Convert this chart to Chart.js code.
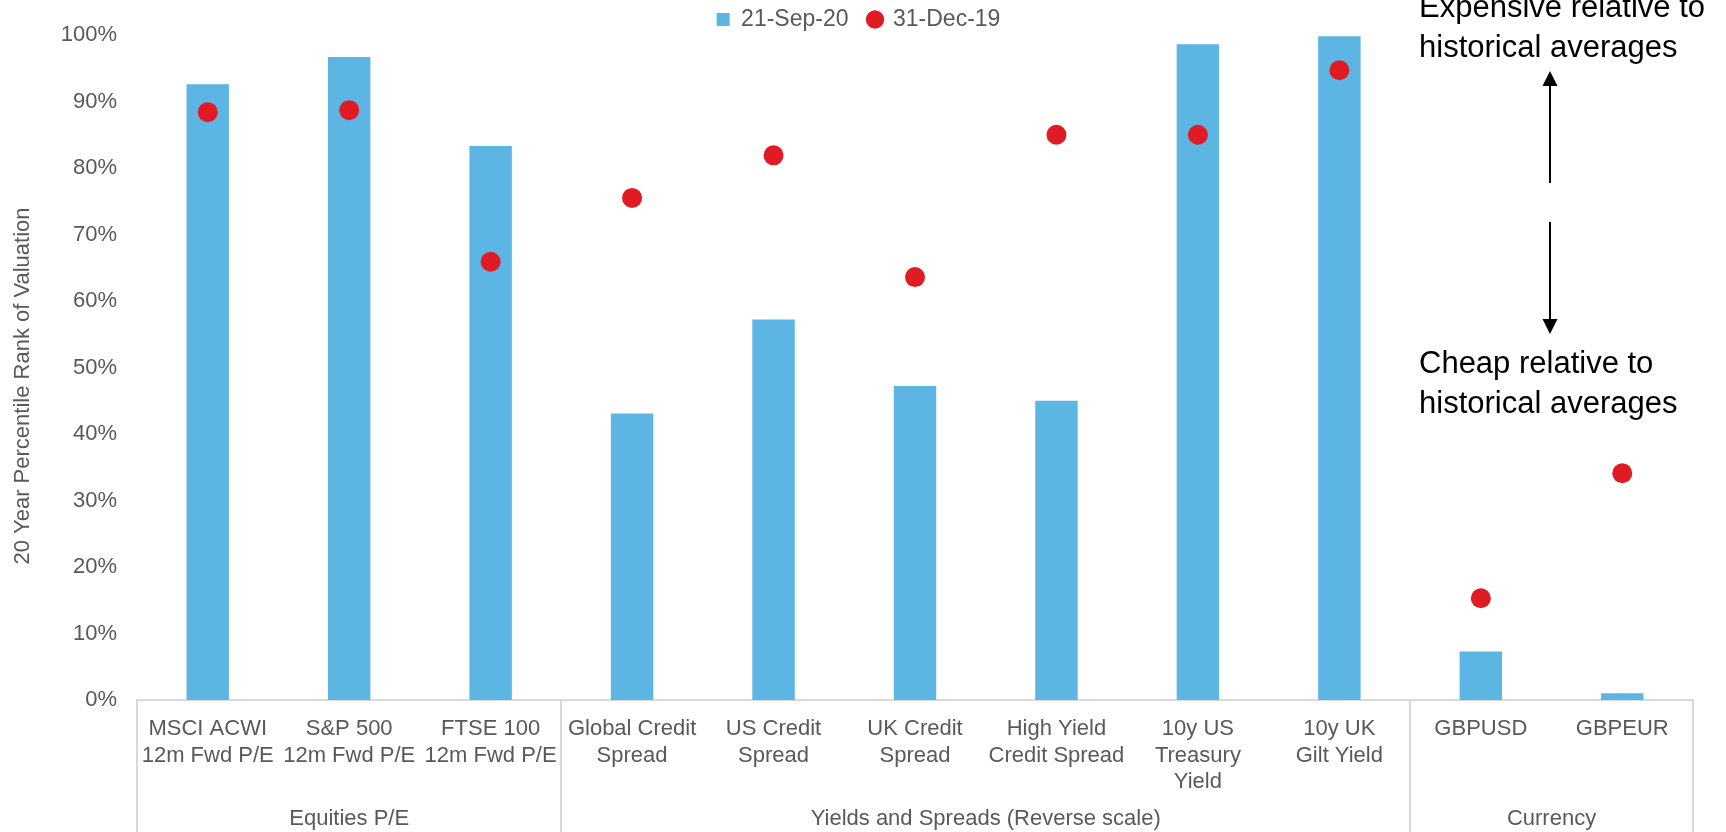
<!DOCTYPE html>
<html>
<head>
<meta charset="utf-8">
<script src="https://cdn.jsdelivr.net/npm/chart.js@4/dist/chart.umd.min.js"></script>
<style>
  html, body { margin: 0; padding: 0; background: #ffffff; }
  #wrap { width: 1726px; height: 832px; position: relative; }
</style>
</head>
<body>
<div id="wrap"><canvas id="chart" width="1726" height="832"></canvas></div>
<script>
// Asset categories (multi-line tick labels)
const categories = [
  ["MSCI ACWI", "12m Fwd P/E"],
  ["S&P 500", "12m Fwd P/E"],
  ["FTSE 100", "12m Fwd P/E"],
  ["Global Credit", "Spread"],
  ["US Credit", "Spread"],
  ["UK Credit", "Spread"],
  ["High Yield", "Credit Spread"],
  ["10y US", "Treasury", "Yield"],
  ["10y UK", "Gilt Yield"],
  ["GBPUSD"],
  ["GBPEUR"]
];

// Category groups shown on the second axis level
const groupNames = ["Equities P/E", "Yields and Spreads (Reverse scale)", "Currency"];
const groupSizes = [3, 6, 2];

// Series names
const seriesNames = ["21-Sep-20", "31-Dec-19"];

// 20-year percentile rank (%)
const rankSep20 = [92.6, 96.7, 83.3, 43.1, 57.2, 47.2, 45.0, 98.6, 99.8, 7.3, 1.0];
const rankDec19 = [88.4, 88.7, 65.9, 75.5, 81.9, 63.6, 85.0, 85.0, 94.7, 15.3, 34.1];

// Y axis ticks
const yTicks = [0, 10, 20, 30, 40, 50, 60, 70, 80, 90, 100];

const axisTitle = "20 Year Percentile Rank of Valuation";
const noteTop = ["Expensive relative to", "historical averages"];
const noteBottom = ["Cheap relative to", "historical averages"];

const FONT = "'Liberation Sans', Arial, Helvetica, sans-serif";
const GREY = "#595959";
const LINE = "#d9d9d9";
const BLUE = "#5db5e4";
const RED = "#e11b23";

// Keeps the legend strip compact so the plot starts right under it,
// and nudges the legend row up/right so wide item spacing does not push it down
const legendHeight = {
  id: "legendHeight",
  beforeInit(chart) {
    const legend = chart.legend;
    const fit = legend.fit;
    legend.fit = function () {
      fit.call(this);
      this.height = 35;
    };
    const draw = legend.draw;
    legend.draw = function () {
      const { top, left, right } = this;
      this.top = top - 12;
      this.left = left + 12;
      this.right = right + 12;
      draw.call(this);
      this.top = top;
      this.left = left;
      this.right = right;
    };
  }
};

// Axis title, category group boxes and the side notes with arrows
const decorations = {
  id: "decorations",
  afterDraw(chart) {
    const ctx = chart.ctx;
    const area = chart.chartArea;
    const step = (area.right - area.left) / categories.length;
    const bottom = chart.height;

    ctx.save();

    // group separators below the axis
    ctx.strokeStyle = LINE;
    ctx.lineWidth = 2;
    let idx = 0;
    const edges = [0];
    groupSizes.forEach(n => { idx += n; edges.push(idx); });
    edges.forEach(e => {
      const x = Math.round(area.left + e * step);
      ctx.beginPath();
      ctx.moveTo(x, area.bottom);
      ctx.lineTo(x, bottom);
      ctx.stroke();
    });

    // group labels
    ctx.fillStyle = GREY;
    ctx.font = "22px " + FONT;
    ctx.textAlign = "center";
    ctx.textBaseline = "middle";
    groupNames.forEach((name, i) => {
      const x0 = area.left + edges[i] * step;
      const x1 = area.left + edges[i + 1] * step;
      ctx.fillText(name, (x0 + x1) / 2, 819);
    });

    // vertical axis title
    ctx.save();
    ctx.translate(23, 386);
    ctx.rotate(-Math.PI / 2);
    ctx.fillText(axisTitle, 0, 0);
    ctx.restore();

    // side notes
    ctx.fillStyle = "#000000";
    ctx.font = "31px " + FONT;
    ctx.textAlign = "left";
    ctx.fillText(noteTop[0], 1419, 8);
    ctx.fillText(noteTop[1], 1419, 48);
    ctx.fillText(noteBottom[0], 1419, 364);
    ctx.fillText(noteBottom[1], 1419, 404);

    // arrows
    const ax = 1550;
    ctx.strokeStyle = "#000000";
    ctx.lineWidth = 2;
    ctx.beginPath();
    ctx.moveTo(ax, 86); ctx.lineTo(ax, 183);
    ctx.moveTo(ax, 222); ctx.lineTo(ax, 319);
    ctx.stroke();
    ctx.beginPath();
    ctx.moveTo(ax, 71); ctx.lineTo(ax - 7.5, 86); ctx.lineTo(ax + 7.5, 86); ctx.closePath();
    ctx.moveTo(ax, 334); ctx.lineTo(ax - 7.5, 319); ctx.lineTo(ax + 7.5, 319); ctx.closePath();
    ctx.fillStyle = "#000000";
    ctx.fill();

    ctx.restore();
  }
};

new Chart(document.getElementById("chart"), {
  data: {
    labels: categories,
    datasets: [
      {
        type: "bar",
        label: seriesNames[0],
        data: rankSep20,
        backgroundColor: BLUE,
        borderWidth: 0,
        barPercentage: 0.3,
        categoryPercentage: 1.0,
        pointStyle: "rect",
        order: 1
      },
      {
        type: "line",
        label: seriesNames[1],
        data: rankDec19,
        showLine: false,
        pointStyle: "circle",
        pointRadius: 10,
        pointHoverRadius: 10,
        pointBackgroundColor: RED,
        pointBorderColor: RED,
        pointBorderWidth: 0,
        backgroundColor: RED,
        borderColor: RED,
        borderWidth: 0,
        order: 0
      }
    ]
  },
  options: {
    responsive: false,
    animation: false,
    events: [],
    layout: { padding: { top: 0, right: 33, bottom: 0, left: 0 } },
    plugins: {
      tooltip: { enabled: false },
      legend: {
        display: true,
        position: "top",
        align: "center",
        labels: {
          usePointStyle: true,
          boxWidth: 13,
          boxHeight: 13,
          padding: 20,
          color: GREY,
          font: { family: FONT, size: 23 },
          sort: (a, b) => a.datasetIndex - b.datasetIndex
        }
      }
    },
    scales: {
      x: {
        type: "category",
        offset: true,
        grid: { display: false, drawTicks: false },
        border: { display: true, color: LINE, width: 2 },
        ticks: {
          autoSkip: false,
          maxRotation: 0,
          minRotation: 0,
          padding: 16,
          color: GREY,
          font: { family: FONT, size: 22, lineHeight: 1.2 }
        },
        afterFit(scale) { scale.height = 132; }
      },
      y: {
        min: 0,
        max: 100,
        grid: { display: false, drawTicks: false },
        border: { display: false },
        afterBuildTicks(scale) { scale.ticks = yTicks.map(v => ({ value: v })); },
        ticks: {
          padding: 20,
          color: GREY,
          font: { family: FONT, size: 22 },
          callback: v => v + "%"
        },
        afterFit(scale) { scale.width = 137; }
      }
    }
  },
  plugins: [legendHeight, decorations]
});
</script>
</body>
</html>
